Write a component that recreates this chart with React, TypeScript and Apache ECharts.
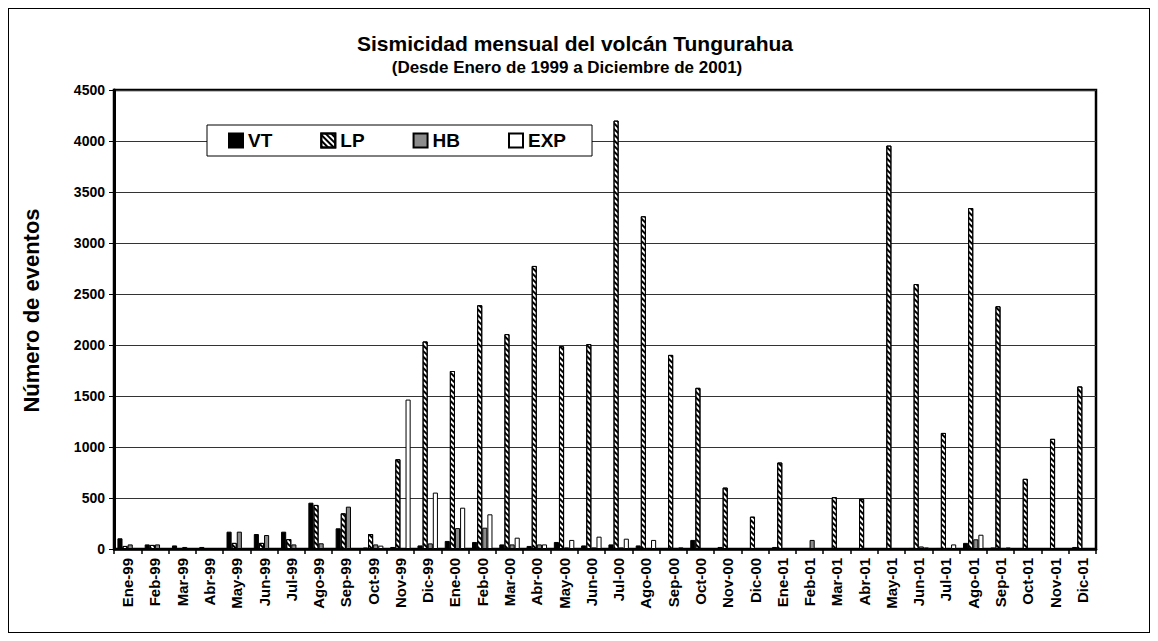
import React, { useEffect, useRef } from "react";
import * as echarts from "echarts";

const categories = [
  "Ene-99", "Feb-99", "Mar-99", "Abr-99", "May-99", "Jun-99", "Jul-99", "Ago-99", "Sep-99", "Oct-99", "Nov-99", "Dic-99",
  "Ene-00", "Feb-00", "Mar-00", "Abr-00", "May-00", "Jun-00", "Jul-00", "Ago-00", "Sep-00", "Oct-00", "Nov-00", "Dic-00",
  "Ene-01", "Feb-01", "Mar-01", "Abr-01", "May-01", "Jun-01", "Jul-01", "Ago-01", "Sep-01", "Oct-01", "Nov-01", "Dic-01",
];

const vtValues = [105, 45, 35, 20, 170, 147, 170, 454, 203, 15, 20, 35, 79, 69, 45, 30, 69, 35, 45, 35, 5, 89, 20, 5, 20, 0, 5, 5, 5, 10, 10, 60, 15, 5, 5, 20];
const lpValues = [30, 40, 5, 5, 60, 60, 98, 432, 350, 147, 880, 2035, 1745, 2390, 2107, 2775, 1988, 2009, 4200, 3262, 1903, 1580, 602, 317, 848, 0, 508, 492, 3955, 2598, 1138, 3343, 2380, 688, 1080, 1594];
const hbValues = [45, 45, 20, 5, 170, 137, 45, 56, 415, 45, 0, 55, 205, 209, 45, 45, 15, 15, 15, 0, 10, 5, 0, 0, 0, 89, 0, 0, 0, 25, 5, 95, 10, 0, 0, 0];
const expValues = [0, 0, 0, 0, 0, 0, 0, 0, 0, 33, 1465, 553, 405, 340, 111, 45, 89, 121, 101, 89, 16, 0, 0, 0, 0, 0, 0, 0, 0, 15, 45, 140, 15, 0, 0, 0];

const yTicks = { min: 0, max: 4500, interval: 500 };

const FONT = 'Arial, "Liberation Sans", sans-serif';

export default function App() {
  const ref = useRef<HTMLDivElement>(null);
  useEffect(() => {
    if (!ref.current) return;
    const chart = echarts.init(ref.current, undefined, { renderer: "svg" });
    const border = { borderColor: "#000", borderWidth: 1 };
    const option: any = {
      animation: false,
      backgroundColor: "#fff",
      textStyle: { fontFamily: FONT },
      title: [
        {
          text: "Sismicidad mensual del volcán Tungurahua",
          left: 561,
          textAlign: "center",
          top: 19,
          textStyle: { fontSize: 21, fontWeight: "bold", color: "#000", fontFamily: FONT },
        },
        {
          text: "(Desde Enero de 1999 a Diciembre de 2001)",
          left: 553,
          textAlign: "center",
          top: 45,
          textStyle: { fontSize: 17, fontWeight: "bold", color: "#000", fontFamily: FONT },
        },
      ],
      legend: {
        left: 198,
        top: 116,
        padding: [6, 26, 6, 21],
        itemGap: 48,
        itemWidth: 14,
        itemHeight: 14,
        icon: "rect",
        backgroundColor: "#fff",
        borderColor: "#000",
        borderWidth: 1,
        textStyle: { fontSize: 19, fontWeight: "bold", color: "#000", fontFamily: FONT },
        data: ["VT", "LP", "HB", "EXP"],
      },
      grid: {
        left: 105,
        right: 53,
        top: 81,
        bottom: 83,
        show: true,
        borderColor: "#000",
        borderWidth: 2.5,
      },
      xAxis: {
        type: "category",
        data: categories,
        axisLine: { lineStyle: { color: "#000", width: 2.5 } },
        axisTick: { show: true, length: 5, lineStyle: { color: "#000", width: 1.5 } },
        axisLabel: { rotate: 90, interval: 0, fontWeight: "bold", fontSize: 15, color: "#000", margin: 9, fontFamily: FONT },
      },
      yAxis: {
        type: "value",
        min: yTicks.min,
        max: yTicks.max,
        interval: yTicks.interval,
        name: "Número de eventos",
        nameLocation: "middle",
        nameGap: 72,
        nameTextStyle: { fontSize: 22, fontWeight: "bold", color: "#000", fontFamily: FONT, padding: [0, 0, 0, 18] },
        axisLine: { show: true, lineStyle: { color: "#000", width: 3 } },
        axisTick: { show: true, length: 5, lineStyle: { color: "#000" } },
        axisLabel: {
          fontWeight: "bold",
          fontSize: 14,
          color: "#000",
          margin: 9,
          fontFamily: FONT,
          formatter: (v: number) => String(v),
        },
        splitLine: { lineStyle: { color: "#333", width: 1 } },
      },
      series: [
        { name: "VT", type: "bar", data: vtValues, barGap: "0%", barCategoryGap: "25%", itemStyle: { color: "#000", ...border } },
        {
          name: "LP",
          type: "bar",
          data: lpValues,
          itemStyle: {
            color: "#fff",
            ...border,
            decal: {
              symbol: "rect",
              symbolSize: 1,
              color: "#000",
              dashArrayX: [1, 0],
              dashArrayY: [2, 2],
              rotation: Math.PI / 4,
            },
          },
        },
        { name: "HB", type: "bar", data: hbValues, itemStyle: { color: "#8c8c8c", ...border } },
        { name: "EXP", type: "bar", data: expValues, itemStyle: { color: "#fff", ...border } },
      ],
    };
    chart.setOption(option);
    return () => chart.dispose();
  }, []);
  return (
    <div style={{ width: 1142, height: 625, border: "1px solid #000", boxSizing: "border-box" }}>
      <div ref={ref} style={{ width: 1140, height: 623 }} />
    </div>
  );
}
